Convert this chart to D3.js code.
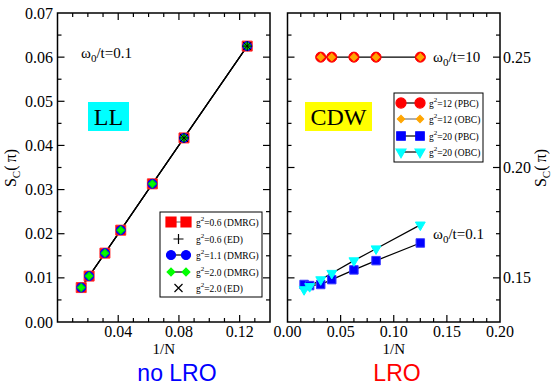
<!DOCTYPE html>
<html>
<head>
<meta charset="utf-8">
<script src="https://cdn.jsdelivr.net/npm/d3@7"></script>
<style>
  html, body { margin: 0; padding: 0; background: #fff; }
  svg text { font-family: "Liberation Serif", "Times New Roman", serif; fill: #000; }
</style>
</head>
<body>
<svg id="chart" width="552" height="387"></svg>
<script>
// ---- data: left panel (omega0/t = 0.1, LL phase) ----
const invN = [1/64, 1/48, 1/32, 1/24, 1/16, 1/12, 1/8];
const g06DMRG = [0.0078, 0.0104, 0.0156, 0.0208, 0.0313, 0.0417, 0.0625];
const g11DMRG = [0.0078, 0.0104, 0.0156, 0.0208, 0.0313, 0.0417, 0.0625];
const g20DMRG = [0.0078, 0.0104, 0.0156, 0.0208, 0.0313, 0.0417, 0.0625];
const invNED = [1/12, 1/8];
const g06ED = [0.0417, 0.0625];
const g20ED = [0.0417, 0.0625];

// ---- data: right panel (CDW phase) ----
const invN10 = [1/32, 1/24, 1/16, 1/12, 1/8];
const g12PBC = [0.25, 0.25, 0.25, 0.25, 0.25];
const g12OBC = [0.25, 0.25, 0.25, 0.25, 0.25];
const g20PBC = [0.1470, 0.1465, 0.1470, 0.1492, 0.1536, 0.1578, 0.1658];
const g20OBC = [0.1447, 0.1461, 0.1492, 0.1521, 0.1578, 0.1632, 0.1740];

// ---- axis ticks ----
const leftXMajor = [0.04, 0.08, 0.12];
const leftYMajor = [0.00, 0.01, 0.02, 0.03, 0.04, 0.05, 0.06, 0.07];
const rightXMajor = [0.00, 0.05, 0.10, 0.15, 0.20];
const rightYMajor = [0.15, 0.20, 0.25];

const svg = d3.select("#chart");

const plotTop = 13, plotBottom = 322;
const xL = d3.scaleLinear().domain([0, 0.14]).range([57.5, 270]);
const yL = d3.scaleLinear().domain([0, 0.07]).range([plotBottom, plotTop]);
const xR = d3.scaleLinear().domain([0, 0.20]).range([287.5, 500]);
const yR = d3.scaleLinear().domain([0.13, 0.27]).range([plotBottom, plotTop]);

const MAJ = 7, MIN = 4;
const fmt2 = d3.format(".2f");

function rangeTicks(a, b, step) {
  const out = [];
  const n = Math.round((b - a) / step);
  for (let i = 0; i <= n; i++) out.push(+(a + i * step).toFixed(6));
  return out;
}

// Frame with inward ticks mirrored on all four sides
function frame(x, y, xMinor, yMinor, xMajor, yMajor) {
  const g = svg.append("g");
  const [x0, x1] = x.range(), [y0, y1] = y.range();
  const isMaj = (arr, v) => arr.some(m => Math.abs(m - v) < 1e-9);
  xMinor.forEach(v => {
    const L = isMaj(xMajor, v) ? MAJ : MIN, px = x(v);
    if (px <= x0 + 0.5 || px >= x1 - 0.5) return;
    g.append("line").attr("x1", px).attr("x2", px).attr("y1", y0).attr("y2", y0 - L);
    g.append("line").attr("x1", px).attr("x2", px).attr("y1", y1).attr("y2", y1 + L);
  });
  yMinor.forEach(v => {
    const L = isMaj(yMajor, v) ? MAJ : MIN, py = y(v);
    if (py >= y0 - 0.5 || py <= y1 + 0.5) return;
    g.append("line").attr("x1", x0).attr("x2", x0 + L).attr("y1", py).attr("y2", py);
    g.append("line").attr("x1", x1).attr("x2", x1 - L).attr("y1", py).attr("y2", py);
  });
  g.selectAll("line").attr("stroke", "#000").attr("stroke-width", 1.2);
  g.append("rect").attr("x", x0).attr("y", y1).attr("width", x1 - x0).attr("height", y0 - y1)
    .attr("fill", "none").attr("stroke", "#000").attr("stroke-width", 1.5);
}

frame(xL, yL, rangeTicks(0, 0.14, 0.01), rangeTicks(0, 0.07, 0.005), leftXMajor, leftYMajor);
frame(xR, yR, rangeTicks(0, 0.20, 0.0125), rangeTicks(0.13, 0.27, 0.01), rightXMajor, rightYMajor);

// tick labels
svg.append("g").selectAll("text").data(leftXMajor).join("text")
  .attr("x", d => xL(d)).attr("y", 337).attr("text-anchor", "middle")
  .attr("font-size", 16).text(fmt2);
svg.append("g").selectAll("text").data(leftYMajor).join("text")
  .attr("x", 53).attr("y", d => yL(d) + 5.5).attr("text-anchor", "end")
  .attr("font-size", 16).text(fmt2);
svg.append("g").selectAll("text").data(rightXMajor).join("text")
  .attr("x", d => xR(d)).attr("y", 337).attr("text-anchor", "middle")
  .attr("font-size", 16).text(fmt2);
svg.append("g").selectAll("text").data(rightYMajor).join("text")
  .attr("x", 503).attr("y", d => yR(d) + 5.5).attr("text-anchor", "start")
  .attr("font-size", 16).text(fmt2);

// axis titles
function xTitle(cx) {
  svg.append("text").attr("x", cx).attr("y", 354).attr("text-anchor", "middle")
    .attr("font-size", 15).text("1/N");
}
xTitle((xL.range()[0] + xL.range()[1]) / 2);
xTitle((xR.range()[0] + xR.range()[1]) / 2);

function sTitle(cx, cy) {
  const t = svg.append("text").attr("transform", `translate(${cx},${cy}) rotate(-90)`)
    .attr("text-anchor", "middle").attr("font-size", 16);
  t.append("tspan").text("S");
  t.append("tspan").attr("font-size", 11).attr("dy", 4).text("C");
  t.append("tspan").attr("dy", -4).text("(\u2009\u03c0)");
}
sTitle(16, 168);
sTitle(546, 168);

// omega labels
function omega(x, y, rest) {
  const t = svg.append("text").attr("x", x).attr("y", y).attr("font-size", 15);
  t.append("tspan").text("\u03c9");
  t.append("tspan").attr("font-size", 11).attr("dy", 4).text("0");
  t.append("tspan").attr("dy", -4).text(rest);
}
omega(81, 58, "/t=0.1");
omega(433, 62, "/t=10");
omega(433, 239, "/t=0.1");

// phase boxes
function phaseBox(x, y, w, h, fill, label) {
  svg.append("rect").attr("x", x).attr("y", y).attr("width", w).attr("height", h).attr("fill", fill);
  svg.append("text").attr("x", x + w / 2).attr("y", y + h / 2 + 8).attr("text-anchor", "middle")
    .attr("font-size", 24).text(label);
}
phaseBox(88, 102, 41, 29, "#00ffff", "LL");
phaseBox(305, 102, 67, 29, "#ffff00", "CDW");

// marker helpers
const sym = (type, size) => d3.symbol().type(type).size(size)();
function markers(x, y, xs, ys, path, fill, stroke, rot) {
  svg.append("g").selectAll("path").data(xs).join("path")
    .attr("d", path)
    .attr("transform", (d, i) => `translate(${x(d)},${y(ys[i])})` + (rot ? ` rotate(${rot})` : ""))
    .attr("fill", fill).attr("stroke", stroke).attr("stroke-width", 1);
}
function curve(x, y, xs, ys, color) {
  const line = d3.line().x(d => x(d[0])).y(d => y(d[1]));
  svg.append("path").attr("d", line(xs.map((d, i) => [d, ys[i]])))
    .attr("fill", "none").attr("stroke", color).attr("stroke-width", 1.2);
}

const squareBig = sym(d3.symbolSquare, 100);
const circleMid = sym(d3.symbolCircle, 64);
const diamondSm = sym(d3.symbolSquare, 30);
const diamondOr = sym(d3.symbolSquare, 26);
const plusPath = "M-5,0H5M0,-5V5";
const crossPath = "M-4,-4L4,4M-4,4L4,-4";
const triPath = sym(d3.symbolTriangle, 42);
const squareMid = sym(d3.symbolSquare, 72);
const circleBig = sym(d3.symbolCircle, 80);

// left panel
curve(xL, yL, invN, g06DMRG, "#000");
curve(xL, yL, invN, g11DMRG, "#000");
curve(xL, yL, invN, g20DMRG, "#000");
markers(xL, yL, invN, g06DMRG, squareBig, "#ff0000", "#ff3030");
markers(xL, yL, invN, g11DMRG, circleMid, "#0000ff", "#0000ff");
markers(xL, yL, invN, g20DMRG, diamondSm, "#00ff00", "#00dd00", 45);
markers(xL, yL, invNED, g06ED, plusPath, "none", "#000");
markers(xL, yL, invNED, g20ED, crossPath, "none", "#000");

// right panel
curve(xR, yR, invN10, g12PBC, "#000");
markers(xR, yR, invN10, g12PBC, circleBig, "#ff0000", "#ff0000");
markers(xR, yR, invN10, g12OBC, diamondOr, "#ffa500", "#ffa500", 45);
curve(xR, yR, invN, g20PBC, "#000");
curve(xR, yR, invN, g20OBC, "#000");
markers(xR, yR, invN, g20PBC, squareMid, "#0000ff", "#3a3aff");
markers(xR, yR, invN, g20OBC, triPath, "#00ffff", "#00ffff", 180);

// legends
function legend(x, y, w, h, rows) {
  svg.append("rect").attr("x", x).attr("y", y).attr("width", w).attr("height", h)
    .attr("fill", "#fff").attr("stroke", "#000").attr("stroke-width", 1);
  rows.forEach(r => {
    const cy = r.y;
    if (r.line) {
      svg.append("line").attr("x1", r.sx0).attr("x2", r.sx1).attr("y1", cy).attr("y2", cy)
        .attr("stroke", r.line).attr("stroke-width", 1.2);
    }
    (r.line ? [r.sx0, r.sx1] : [(r.sx0 + r.sx1) / 2]).forEach(px => {
      svg.append("path").attr("d", r.path)
        .attr("transform", `translate(${px},${cy})` + (r.rot ? ` rotate(${r.rot})` : ""))
        .attr("fill", r.fill).attr("stroke", r.stroke).attr("stroke-width", 1.2);
    });
    const t = svg.append("text").attr("x", r.tx).attr("y", cy + 3.5).attr("font-size", 9.5);
    t.append("tspan").text("g");
    t.append("tspan").attr("font-size", 7).attr("dy", -5).text("2");
    t.append("tspan").attr("dy", 5).text(r.label);
  });
}

legend(160, 212, 102, 85, [
  { y: 222, sx0: 171, sx1: 186, path: squareBig, fill: "#ff0000", stroke: "#ff0000", line: "#777", tx: 196, label: "=0.6 (DMRG)" },
  { y: 239, sx0: 171, sx1: 186, path: plusPath, fill: "none", stroke: "#000", tx: 196, label: "=0.6 (ED)" },
  { y: 255, sx0: 171, sx1: 186, path: circleMid, fill: "#0000ff", stroke: "#0000ff", line: "#000", tx: 196, label: "=1.1 (DMRG)" },
  { y: 272, sx0: 171, sx1: 186, path: diamondSm, rot: 45, fill: "#00ff00", stroke: "#00ff00", line: "#000", tx: 196, label: "=2.0 (DMRG)" },
  { y: 288, sx0: 171, sx1: 186, path: crossPath, fill: "none", stroke: "#000", tx: 196, label: "=2.0 (ED)" }
]);

legend(394, 93, 89, 69, [
  { y: 103, sx0: 401, sx1: 420, path: circleBig, fill: "#ff0000", stroke: "#ff0000", line: "#000", tx: 429, label: "=12 (PBC)" },
  { y: 119, sx0: 401, sx1: 420, path: diamondOr, rot: 45, fill: "#ffa500", stroke: "#ffa500", line: "#777", tx: 429, label: "=12 (OBC)" },
  { y: 136, sx0: 401, sx1: 420, path: squareMid, fill: "#0000ff", stroke: "#0000ff", line: "#000", tx: 429, label: "=20 (PBC)" },
  { y: 152, sx0: 401, sx1: 420, path: triPath, rot: 180, fill: "#00ffff", stroke: "#00ffff", line: "#000", tx: 429, label: "=20 (OBC)" }
]);

// phase captions
svg.append("text").attr("x", 177).attr("y", 381).attr("text-anchor", "middle")
  .style("font-family", "'Liberation Sans', Arial, sans-serif").style("fill", "#0000ff")
  .attr("font-size", 23).text("no LRO");
svg.append("text").attr("x", 397).attr("y", 381).attr("text-anchor", "middle")
  .style("font-family", "'Liberation Sans', Arial, sans-serif").style("fill", "#ff0000")
  .attr("font-size", 23).text("LRO");
</script>
</body>
</html>
